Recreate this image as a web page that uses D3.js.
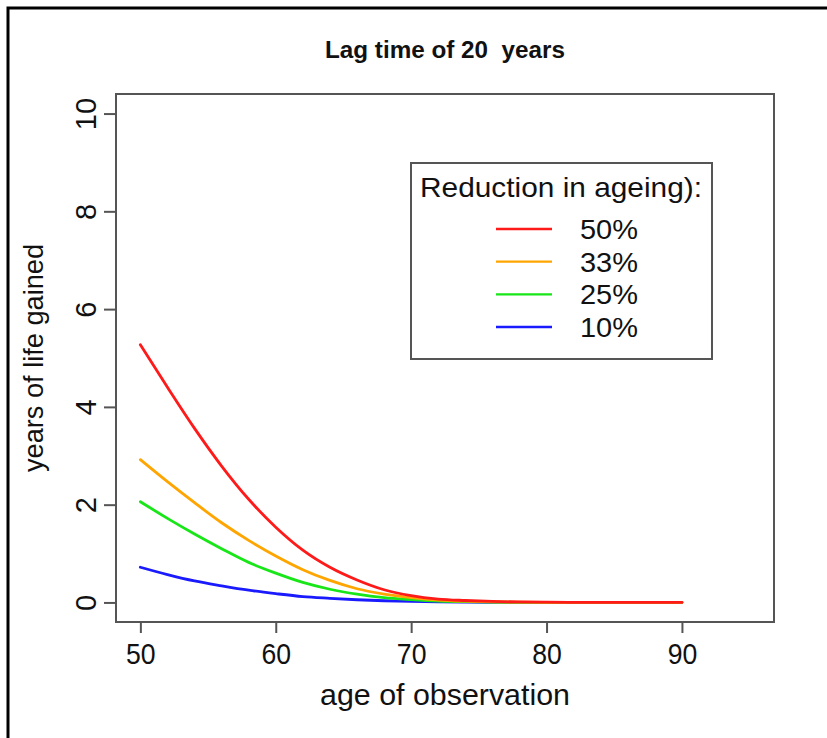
<!DOCTYPE html>
<html>
<head>
<meta charset="utf-8">
<script src="https://cdn.jsdelivr.net/npm/d3@7"></script>
<style>
  html, body { margin: 0; padding: 0; background: #fff; }
  svg { display: block; }
  text { font-family: "Liberation Sans", Arial, Helvetica, sans-serif; fill: #111; }
</style>
</head>
<body>
<svg id="chart" width="827" height="738"></svg>
<script>
// ---- data ----
const ages = [50, 52, 54, 56, 58, 60, 62, 64, 66, 68, 70, 72, 74, 76, 78, 80, 85, 90];
const red50    = [5.27, 4.40, 3.56, 2.79, 2.11, 1.54, 1.07, 0.72, 0.46, 0.26, 0.14, 0.07, 0.04, 0.02, 0.01, 0.005, 0, 0];
const orange33 = [2.92, 2.47, 2.04, 1.63, 1.27, 0.95, 0.67, 0.45, 0.28, 0.17, 0.10, 0.05, 0.025, 0.012, 0.005, 0.002, 0, 0];
const green25  = [2.06, 1.72, 1.40, 1.10, 0.82, 0.60, 0.41, 0.27, 0.17, 0.10, 0.06, 0.03, 0.015, 0.007, 0.003, 0.001, 0, 0];
const blue10   = [0.72, 0.57, 0.44, 0.34, 0.25, 0.18, 0.12, 0.085, 0.055, 0.035, 0.02, 0.01, 0.006, 0.003, 0.001, 0, 0, 0];
const seriesLabels = ["50%", "33%", "25%", "10%"];
const seriesColors = ["#ff1a1a", "#ffa500", "#19e619", "#1a1aff"];
const seriesValues = [red50, orange33, green25, blue10];
const xTicks = [50, 60, 70, 80, 90];
const yTicks = [0, 2, 4, 6, 8, 10];
const titleText = "Lag time of 20  years";
const xLabel = "age of observation";
const yLabel = "years of life gained";
const legendTitle = "Reduction in ageing):";

// ---- layout ----
const svg = d3.select("#chart");
const box = { left: 116, right: 774, top: 94, bottom: 622 };
const xDom = [50, 95], yDom = [0, 10];
const xPad = (xDom[1] - xDom[0]) * 0.04, yPad = (yDom[1] - yDom[0]) * 0.04;
const x = d3.scaleLinear().domain([xDom[0] - xPad, xDom[1] + xPad]).range([box.left, box.right]);
const y = d3.scaleLinear().domain([yDom[0] - yPad, yDom[1] + yPad]).range([box.bottom, box.top]);

// outer frame (top + left visible)
svg.append("rect").attr("x", 8).attr("y", 8).attr("width", 1000).attr("height", 1000)
  .attr("fill", "none").attr("stroke", "#000").attr("stroke-width", 3);

// title
svg.append("text").attr("x", 445).attr("y", 58).attr("text-anchor", "middle")
  .attr("font-size", 23).attr("font-weight", "bold")
  .attr("xml:space", "preserve").style("white-space", "pre")
  .attr("textLength", 240).attr("lengthAdjust", "spacingAndGlyphs")
  .text(titleText);

// series lines (red drawn last so it is on top)
const line = d3.line().x((d, i) => x(ages[i])).y(d => y(d)).curve(d3.curveMonotoneX);
const order = [3, 2, 1, 0];
order.forEach(k => {
  svg.append("path").datum(seriesValues[k]).attr("d", line)
    .attr("fill", "none").attr("stroke", seriesColors[k]).attr("stroke-width", 2.8)
    .attr("stroke-linejoin", "round").attr("stroke-linecap", "round");
});

// plot box
svg.append("rect").attr("x", box.left).attr("y", box.top)
  .attr("width", box.right - box.left).attr("height", box.bottom - box.top)
  .attr("fill", "none").attr("stroke", "#555").attr("stroke-width", 2);

// x axis
const xAxis = d3.axisBottom(x).tickValues(xTicks).tickSize(11).tickPadding(9).tickFormat(d3.format("d"));
const gx = svg.append("g").attr("transform", `translate(0,${box.bottom})`).call(xAxis);
gx.select(".domain").remove();
gx.selectAll(".tick line").attr("stroke", "#555").attr("stroke-width", 2);
gx.selectAll(".tick text").attr("font-size", 28).attr("fill", "#111")
  .attr("font-family", "Liberation Sans, Arial, sans-serif")
  .attr("transform", "scale(0.95,1.05)");

// y axis
const yAxis = d3.axisLeft(y).tickValues(yTicks).tickSize(12).tickPadding(0).tickFormat(d3.format("d"));
const gy = svg.append("g").attr("transform", `translate(${box.left},0)`).call(yAxis);
gy.select(".domain").remove();
gy.selectAll(".tick line").attr("stroke", "#555").attr("stroke-width", 2);
gy.selectAll(".tick text")
  .attr("font-size", 29).attr("fill", "#111")
  .attr("font-family", "Liberation Sans, Arial, sans-serif")
  .attr("x", null).attr("dy", null)
  .attr("text-anchor", "middle")
  .attr("transform", "translate(-20,0) rotate(-90)");

// axis labels
svg.append("text").attr("x", 445).attr("y", 705).attr("text-anchor", "middle")
  .attr("font-size", 29).attr("textLength", 250).attr("lengthAdjust", "spacingAndGlyphs")
  .text(xLabel);
svg.append("text").attr("transform", `translate(43,${(box.top + box.bottom) / 2}) rotate(-90)`)
  .attr("text-anchor", "middle").attr("font-size", 28)
  .attr("textLength", 228).attr("lengthAdjust", "spacingAndGlyphs")
  .text(yLabel);

// legend
const lg = svg.append("g");
lg.append("rect").attr("x", 411).attr("y", 163).attr("width", 301).attr("height", 196)
  .attr("fill", "#fff").attr("stroke", "#555").attr("stroke-width", 2);
lg.append("text").attr("x", 561).attr("y", 197).attr("text-anchor", "middle")
  .attr("font-size", 28).attr("textLength", 282).attr("lengthAdjust", "spacingAndGlyphs")
  .text(legendTitle);
const legendY = d3.scalePoint().domain(seriesLabels).range([229, 327]);
seriesLabels.forEach((lab, i) => {
  const yy = legendY(lab);
  lg.append("line").attr("x1", 496).attr("x2", 552).attr("y1", yy).attr("y2", yy)
    .attr("stroke", seriesColors[i]).attr("stroke-width", 2.4);
  lg.append("text").attr("x", 580).attr("y", yy + 10).attr("font-size", 28)
    .attr("textLength", 58).attr("lengthAdjust", "spacingAndGlyphs").text(lab);
});
</script>
</body>
</html>
